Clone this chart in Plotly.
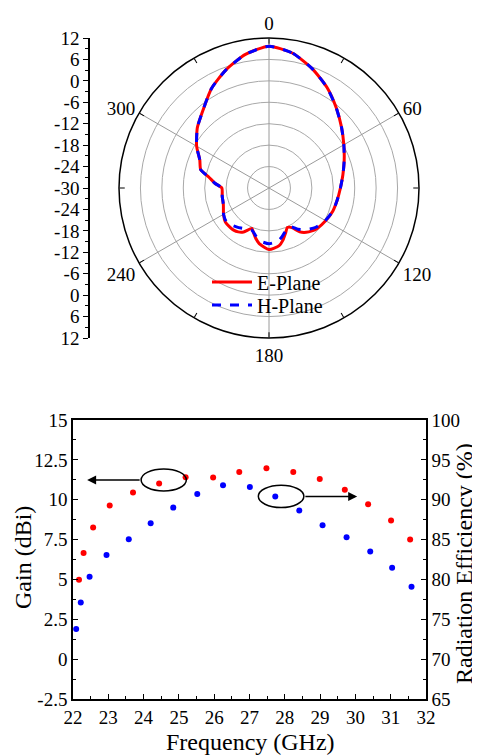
import plotly.graph_objects as go

# page body has an 8px margin: lay out in screen pixels and shift by the offset
OX, OY = 8, 8
W, H = 480 - OX, 756 - OY
FONT = "Liberation Serif, Times New Roman, Times, serif"

# ---------------- polar radiation pattern data ----------------
theta_deg = [0, 10, 20, 30, 40, 50, 60, 70, 80, 90, 100, 110, 120, 130, 135, 140, 145, 150,
             155, 160, 165, 170, 180, 190, 195, 200, 203, 210, 215, 220, 225, 232, 240, 250,
             260, 270, 275, 280, 285, 292, 300, 310, 318, 330, 340, 350, 360]
e_plane_db = [9.7, 8.3, 5.5, 2.5, -0.7, -3.5, -5.8, -7.6, -9.0, -10.0, -10.6, -11.0, -11.7,
              -12.4, -13.0, -13.8, -15.0, -17.2, -17.8, -16.5, -14.9, -13.6, -12.8, -14.2,
              -15.5, -17.0, -17.7, -15.8, -15.0, -14.6, -14.5, -14.5, -15.3, -16.4, -16.7,
              -16.8, -14.8, -13.0, -10.2, -9.1, -6.6, -3.8, -1.9, 2.2, 5.2, 8.0, 9.7]
h_plane_db = [9.7, 8.3, 5.5, 2.5, -0.7, -3.5, -5.8, -7.6, -9.0, -10.0, -10.6, -11.0, -11.8,
              -12.9, -13.8, -14.8, -15.9, -17.4, -17.6, -16.9, -15.9, -15.0, -14.4, -15.0,
              -16.0, -17.0, -17.3, -16.8, -16.3, -15.8, -15.3, -14.8, -15.3, -16.4, -16.7,
              -16.8, -14.8, -13.0, -10.2, -9.1, -6.6, -3.8, -1.9, 2.2, 5.2, 8.0, 9.7]

polar_r_range = [-30, 12]
polar_ring_vals = [-24, -18, -12, -6, 0, 6]
polar_angle_ticks = list(range(0, 360, 30))
polar_angle_labels = [str(a) if a % 60 == 0 else "" for a in polar_angle_ticks]
spoke_angles = [0, 60, 120, 180, 240, 300]

# mirrored dB scale on the left (position -> label)
scale_vals = list(range(-42, 43, 6))
scale_labels = [str(abs(v) - 30) for v in scale_vals]
scale_minor = list(range(-39, 42, 6))

# ---------------- gain / efficiency data ----------------
freq_gain = [22.17, 22.30, 22.57, 23.04, 23.70, 24.44, 25.19, 25.97, 26.71, 27.48, 28.24,
             28.99, 29.70, 30.36, 31.01, 31.55]
gain_dbi = [4.98, 6.65, 8.26, 9.63, 10.45, 11.01, 11.41, 11.39, 11.74, 11.97, 11.74, 11.30,
            10.62, 9.72, 8.70, 7.51]
freq_eff = [22.09, 22.22, 22.47, 22.95, 23.58, 24.20, 24.84, 25.52, 26.25, 27.01, 27.73,
            28.41, 29.07, 29.75, 30.42, 31.04, 31.59]
efficiency = [73.77, 77.11, 80.33, 83.08, 85.05, 87.05, 89.01, 90.73, 91.81, 91.60, 90.39,
              88.64, 86.80, 85.30, 83.50, 81.45, 79.07]

x_ticks = list(range(22, 33))
gain_ticks = [-2.5, 0, 2.5, 5, 7.5, 10, 12.5, 15]
gain_labels = ["-2.5", "0", "2.5", "5", "7.5", "10", "12.5", "15"]
eff_ticks = [65, 70, 75, 80, 85, 90, 95, 100]

fig = go.Figure()

# spokes (angular grid every 60 deg)
for a in spoke_angles:
    fig.add_trace(go.Scatterpolar(r=polar_r_range, theta=[a, a], mode="lines",
                                  line=dict(color="#9a9a9a", width=1),
                                  showlegend=False, hoverinfo="skip"))

fig.add_trace(go.Scatterpolar(r=e_plane_db, theta=theta_deg, mode="lines", name="E-Plane",
                              legend="legend",
                              line=dict(color="#ff0000", width=3, shape="spline", smoothing=0.6)))
fig.add_trace(go.Scatterpolar(r=h_plane_db, theta=theta_deg, mode="lines", name="H-Plane",
                              legend="legend2",
                              line=dict(color="#0000ff", width=3, dash="dash", shape="spline",
                                        smoothing=0.6)))

# invisible trace to anchor the left dB scale
fig.add_trace(go.Scatter(x=[0.5], y=[0], xaxis="x3", yaxis="y3", mode="markers",
                         marker=dict(opacity=0), showlegend=False, hoverinfo="skip"))

fig.add_trace(go.Scatter(x=freq_gain, y=gain_dbi, mode="markers", xaxis="x", yaxis="y",
                         marker=dict(color="#ff0000", size=6), showlegend=False))
fig.add_trace(go.Scatter(x=freq_eff, y=efficiency, mode="markers", xaxis="x", yaxis="y2",
                         marker=dict(color="#0000ff", size=6), showlegend=False))

def py(p):
    return 1 - (p - OY) / H

def px_(p):
    return (p - OX) / W

tickfont = dict(family=FONT, size=19, color="black")
legfont = dict(family=FONT, size=20, color="black")

fig.update_layout(
    width=W, height=H,
    margin=dict(l=0, r=0, t=0, b=0, autoexpand=False),
    paper_bgcolor="white", plot_bgcolor="white",
    font=dict(family=FONT, size=19, color="black"),
    polar=dict(
        domain=dict(x=[px_(119), px_(419)], y=[py(338), py(38)]),
        bgcolor="white",
        radialaxis=dict(range=polar_r_range, tickvals=polar_ring_vals, showticklabels=False,
                        ticks="", showline=False, gridcolor="#a8a8a8", gridwidth=1),
        angularaxis=dict(rotation=90, direction="clockwise", tickmode="array",
                         tickvals=polar_angle_ticks, ticktext=polar_angle_labels,
                         showgrid=False, ticks="inside", ticklen=5, tickcolor="black",
                         showline=True, linecolor="black", linewidth=1.5, tickfont=tickfont),
    ),
    xaxis3=dict(domain=[px_(90), px_(91)], range=[0, 1], visible=False, anchor="y3"),
    yaxis3=dict(domain=[py(338), py(38)], anchor="x3", range=[-42, 42], tickmode="array",
                tickvals=scale_vals, ticktext=scale_labels, ticks="outside", ticklen=5,
                tickcolor="black", showline=True, linecolor="black", linewidth=1.5,
                showgrid=False, zeroline=False, tickfont=tickfont, automargin=False,
                minor=dict(tickvals=scale_minor, ticks="outside", ticklen=3, tickcolor="black")),
    xaxis=dict(domain=[px_(73), px_(426)], range=[22, 32], tickmode="array", tickvals=x_ticks,
               ticks="inside", ticklen=5, tickcolor="black", showline=True, linecolor="black",
               linewidth=1.5, mirror=True, showgrid=False, zeroline=False, tickfont=tickfont,
               minor=dict(dtick=0.5, ticks="inside", ticklen=3, tickcolor="black"),
               anchor="y", automargin=False),
    yaxis=dict(domain=[py(699), py(420)], range=[-2.5, 15], tickmode="array",
               tickvals=gain_ticks, ticktext=gain_labels, ticks="inside", ticklen=5,
               tickcolor="black", showline=True, linecolor="black", linewidth=1.5,
               showgrid=False, zeroline=False, tickfont=tickfont, automargin=False,
               minor=dict(dtick=1.25, tick0=0, ticks="inside", ticklen=3, tickcolor="black"),
               anchor="x"),
    yaxis2=dict(overlaying="y", side="right", range=[65, 100], tickmode="array",
                tickvals=eff_ticks, ticks="inside", ticklen=5, tickcolor="black",
                showline=True, linecolor="black", linewidth=1.5, showgrid=False,
                zeroline=False, tickfont=tickfont, automargin=False,
                minor=dict(dtick=2.5, tick0=65, ticks="inside", ticklen=3, tickcolor="black"),
                anchor="x"),
    legend=dict(x=px_(207), y=py(282), xanchor="left", yanchor="middle",
                bgcolor="rgba(0,0,0,0)", font=legfont, itemwidth=40),
    legend2=dict(x=px_(207), y=py(305), xanchor="left", yanchor="middle",
                 bgcolor="rgba(0,0,0,0)", font=legfont, itemwidth=40),
    showlegend=True,
)

# ellipses and arrows (annotations on gain axes)
fig.add_shape(type="circle", xref="x", yref="y", x0=23.93, x1=25.21, y0=10.55, y1=11.93,
              line=dict(color="black", width=1.5))
fig.add_shape(type="circle", xref="x", yref="y", x0=27.25, x1=28.54, y0=9.51, y1=10.91,
              line=dict(color="black", width=1.5))
fig.add_annotation(x=22.40, y=11.24, ax=23.93, ay=11.24, xref="x", yref="y", axref="x",
                   ayref="y", text="", showarrow=True, arrowhead=2, arrowsize=1.2,
                   arrowwidth=1.5, arrowcolor="black")
fig.add_annotation(x=30.05, y=10.20, ax=28.54, ay=10.20, xref="x", yref="y", axref="x",
                   ayref="y", text="", showarrow=True, arrowhead=2, arrowsize=1.2,
                   arrowwidth=1.5, arrowcolor="black")

titlefont = dict(family=FONT, size=24, color="black")
fig.add_annotation(text="Gain (dBi)", x=px_(23), y=py(558), xref="paper", yref="paper",
                   xanchor="center", yanchor="middle",
                   showarrow=False, textangle=-90, font=titlefont)
fig.add_annotation(text="Radiation Efficiency (%)", x=px_(464), y=py(564), xref="paper",
                   yref="paper", xanchor="center", yanchor="middle",
                   showarrow=False, textangle=-90, font=titlefont)
fig.add_annotation(text="Frequency (GHz)", x=px_(251), y=py(742), xref="paper", yref="paper",
                   xanchor="center", yanchor="middle",
                   showarrow=False, font=titlefont)

fig.write_html("out.html")
